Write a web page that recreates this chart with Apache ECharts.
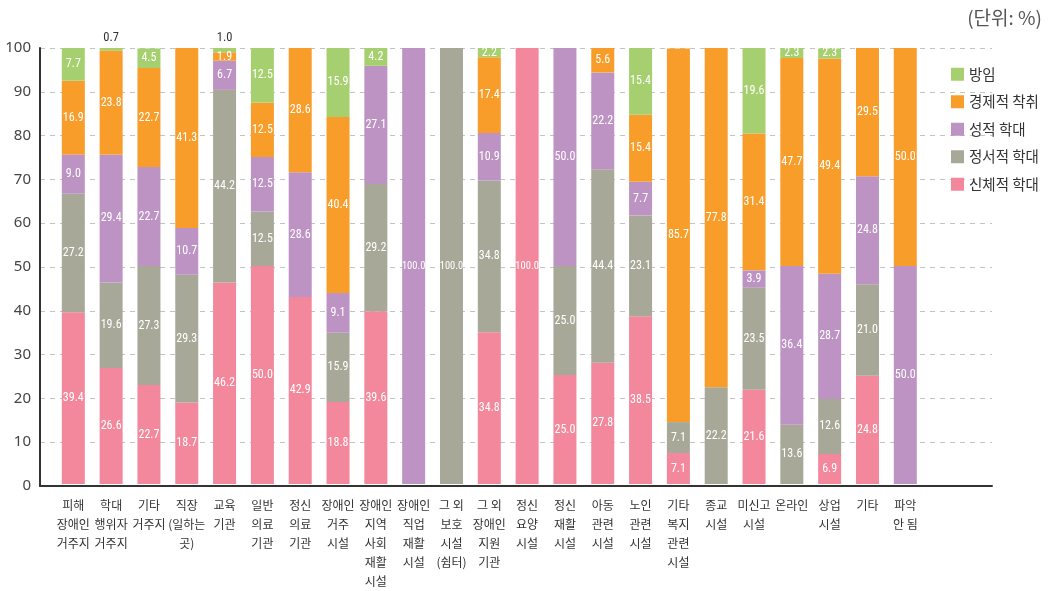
<!DOCTYPE html>
<html><head><meta charset="utf-8">
<script src="https://cdn.jsdelivr.net/npm/echarts@6/dist/echarts.min.js"></script>
<style>html,body{margin:0;padding:0;background:#fff}#c{width:1052px;height:591px}</style>
</head><body><div id="c"></div>
<script>
const categories = ['피해\n장애인\n거주지','학대\n행위자\n거주지','기타\n거주지','직장\n(일하는\n곳)','교육\n기관','일반\n의료\n기관','정신\n의료\n기관','장애인\n거주\n시설','장애인\n지역\n사회\n재활\n시설','장애인\n직업\n재활\n시설','그 외\n보호\n시설\n(쉼터)','그 외\n장애인\n지원\n기관','정신\n요양\n시설','정신\n재활\n시설','아동\n관련\n시설','노인\n관련\n시설','기타\n복지\n관련\n시설','종교\n시설','미신고\n시설','온라인','상업\n시설','기타','파악\n안 됨'];
const physical  = [39.4,26.6,22.7,18.7,46.2,50.0,42.9,18.8,39.6,null,null,34.8,100.0,25.0,27.8,38.5,7.1,null,21.6,null,6.9,24.8,null];
const emotional = [27.2,19.6,27.3,29.3,44.2,12.5,null,15.9,29.2,null,100.0,34.8,null,25.0,44.4,23.1,7.1,22.2,23.5,13.6,12.6,21.0,null];
const sexual    = [9.0,29.4,22.7,10.7,6.7,12.5,28.6,9.1,27.1,100.0,null,10.9,null,50.0,22.2,7.7,null,null,3.9,36.4,28.7,24.8,50.0];
const economic  = [16.9,23.8,22.7,41.3,1.9,12.5,28.6,40.4,null,null,null,17.4,null,null,5.6,15.4,85.7,77.8,31.4,47.7,49.4,29.5,50.0];
const neglect   = [7.7,0.7,4.5,null,1.0,12.5,null,15.9,4.2,null,null,2.2,null,null,null,15.4,null,null,19.6,2.3,2.3,null,null];
const seriesNames = ['신체적 학대','정서적 학대','성적 학대','경제적 착취','방임'];
const yTicks = [0,10,20,30,40,50,60,70,80,90,100];

const colors = ['#F3879B','#A8A899','#BC93C3','#F99D2A','#A6D06F'];
const seriesData = [physical, emotional, sexual, economic, neglect];
const numFont = "'Roboto Condensed','Roboto',sans-serif";
const krFont = "'Noto Sans CJK KR','Noto Sans',sans-serif";

function item(v) {
  if (v == null) return v;
  if (v <= 1.0) return { value: v, label: { position: 'top', color: '#333', distance: 4, fontSize: 12.5 } };
  if (v >= 100) return { value: v, label: { fontSize: 10.5 } };
  return v;
}

const series = seriesData.map((arr, i) => ({
  name: seriesNames[i],
  type: 'bar',
  stack: 'total',
  xAxisIndex: 1,
  yAxisIndex: 1,
  barWidth: 23,
  itemStyle: { color: colors[i] },
  label: {
    show: true,
    position: 'inside',
    color: '#fff',
    fontSize: 12,
    fontFamily: numFont,
    formatter: p => p.value == null ? '' : Number(p.value).toFixed(1)
  },
  data: arr.map(item)
}));

const chart = echarts.init(document.getElementById('c'));
chart.setOption({
  animation: false,
  title: {
    text: '(단위: %)', right: 5, top: 3,
    textStyle: { fontSize: 19, fontWeight: 'normal', color: '#555', fontFamily: krFont }
  },
  legend: {
    data: ['방임','경제적 착취','성적 학대','정서적 학대','신체적 학대'],
    orient: 'vertical', left: 946, top: 62,
    itemWidth: 13, itemHeight: 13, itemGap: 13,
    icon: 'rect',
    textStyle: { fontSize: 14.5, color: '#333', fontFamily: krFont }
  },
  grid: [
    { left: 40, right: 60, top: 48, bottom: 105 },
    { left: 54.4, right: 127.8, top: 48, bottom: 105 }
  ],
  xAxis: [
    { gridIndex: 0, type: 'category', data: [''],
      axisLine: { show: true, lineStyle: { color: '#333', width: 2 } },
      axisTick: { show: false }, axisLabel: { show: false }, splitLine: { show: false } },
    { gridIndex: 1, type: 'category', data: categories,
      axisLine: { show: false }, axisTick: { show: false },
      axisLabel: { interval: 0, margin: 12, fontSize: 12, lineHeight: 19, color: '#333', fontFamily: krFont } }
  ],
  yAxis: [
    { gridIndex: 0, type: 'value', min: yTicks[0], max: yTicks[yTicks.length-1], interval: 10,
      axisLine: { show: true, lineStyle: { color: '#333', width: 2 } },
      axisTick: { show: false },
      axisLabel: { fontSize: 15, color: '#444', margin: 9, fontFamily: "'Noto Sans',sans-serif" },
      splitLine: { show: true, lineStyle: { color: '#c4c4c4', type: [5,5], width: 1 } } },
    { gridIndex: 1, type: 'value', min: 0, max: 100, show: false, splitLine: { show: false } }
  ],
  series: series
});
</script></body></html>
